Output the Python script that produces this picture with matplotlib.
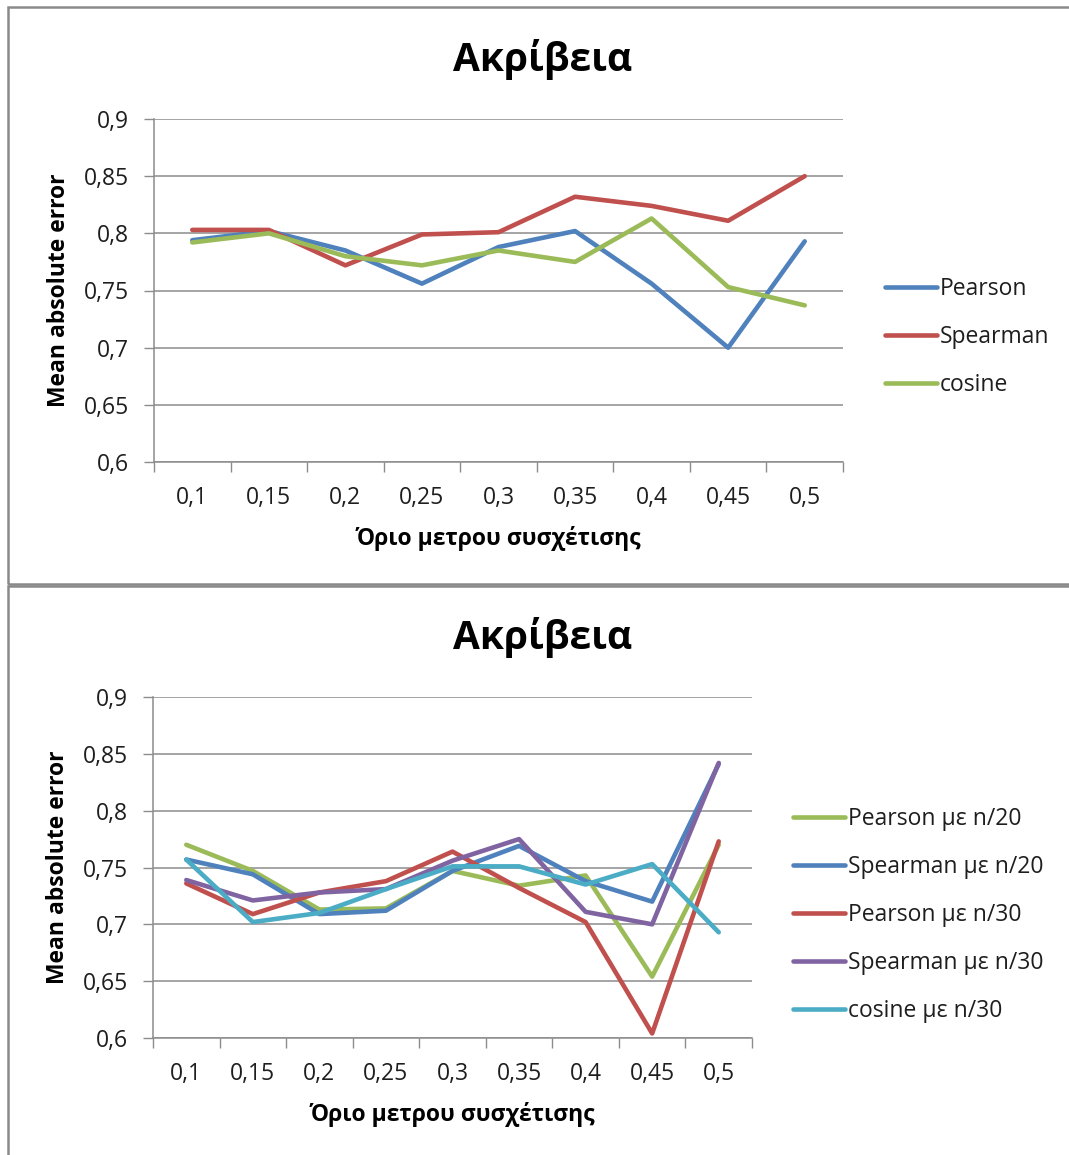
import matplotlib
matplotlib.use("Agg")
import matplotlib.pyplot as plt
from matplotlib.patches import Rectangle
from matplotlib.ticker import FixedLocator

plt.rcParams['font.family'] = ['Open Sans', 'DejaVu Sans']

# Thresholds (x categories)
thresholds = ["0,1", "0,15", "0,2", "0,25", "0,3", "0,35", "0,4", "0,45", "0,5"]

# Upper chart series
pearson = [0.794, 0.802, 0.785, 0.756, 0.788, 0.802, 0.756, 0.700, 0.793]
spearman = [0.803, 0.803, 0.772, 0.799, 0.801, 0.832, 0.824, 0.811, 0.850]
cosine = [0.792, 0.800, 0.780, 0.772, 0.785, 0.775, 0.813, 0.753, 0.737]

# Lower chart series
pearson_n20 = [0.770, 0.747, 0.713, 0.714, 0.747, 0.734, 0.743, 0.654, 0.770]
spearman_n20 = [0.757, 0.744, 0.709, 0.712, 0.747, 0.769, 0.738, 0.720, 0.841]
pearson_n30 = [0.736, 0.709, 0.728, 0.738, 0.764, 0.732, 0.702, 0.604, 0.773]
spearman_n30 = [0.739, 0.721, 0.728, 0.731, 0.756, 0.775, 0.711, 0.700, 0.842]
cosine_n30 = [0.757, 0.702, 0.710, 0.731, 0.751, 0.751, 0.735, 0.753, 0.693]

y_ticks = [0.6, 0.65, 0.7, 0.75, 0.8, 0.85, 0.9]
y_labels = ["0,6", "0,65", "0,7", "0,75", "0,8", "0,85", "0,9"]

BLUE = "#4F81BD"
RED = "#C0504D"
GREEN = "#9BBB59"
PURPLE = "#8064A2"
CYAN = "#4BACC6"
GRID = "#8C8C8C"
TEXT = "#1E1E1E"

FS = 16.5

W, H = 1069, 1155
fig = plt.figure(figsize=(W / 100, H / 100), dpi=100)


def px_axes(left, top, right, bottom):
    return fig.add_axes([left / W, 1 - bottom / H, (right - left) / W, (bottom - top) / H])


def style_axes(ax):
    n = len(thresholds)
    ax.set_xlim(-0.5, n - 0.5)
    ax.set_ylim(0.6, 0.9)
    ax.set_xticks(range(n))
    ax.set_xticklabels(thresholds, fontsize=FS, color=TEXT)
    ax.xaxis.set_minor_locator(FixedLocator([i - 0.5 for i in range(n + 1)]))
    ax.tick_params(axis="x", which="major", length=0, pad=17)
    ax.tick_params(axis="x", which="minor", length=7, width=1, color=GRID)
    ax.set_yticks(y_ticks)
    ax.set_yticklabels(y_labels, fontsize=FS, color=TEXT)
    ax.tick_params(axis="y", which="major", length=7, width=1, color=GRID, pad=11)
    ax.grid(axis="y", color=GRID, linewidth=1.1)
    ax.set_axisbelow(True)
    for s in ("top", "right"):
        ax.spines[s].set_visible(False)
    for s in ("left", "bottom"):
        ax.spines[s].set_color(GRID)
        ax.spines[s].set_linewidth(1.1)
    ax.set_ylabel("Mean absolute error", fontsize=FS, fontweight="bold", labelpad=9, color="black")
    ax.set_xlabel("Όριο μετρου συσχέτισης", fontsize=FS, fontweight="bold", labelpad=12, color="black")


# Panel frames
fig.patches.append(Rectangle((8 / W, 1 - 584 / H), 1.2, 577 / H, transform=fig.transFigure,
                             fill=False, edgecolor="#8A8A8A", linewidth=1.8))
fig.patches.append(Rectangle((8 / W, -0.1), 1.2, 1 - 586 / H + 0.1, transform=fig.transFigure,
                             fill=False, edgecolor="#8A8A8A", linewidth=1.8))

x = list(range(len(thresholds)))
lw = 3.3
legend_kw = dict(frameon=False, fontsize=FS, handlelength=2.25, handletextpad=0.15,
                 labelspacing=1.05, borderaxespad=0, bbox_transform=fig.transFigure,
                 loc="center left", labelcolor=TEXT)

# Upper chart
ax1 = px_axes(154, 119, 843, 462)
style_axes(ax1)
ax1.plot(x, pearson, color=BLUE, lw=lw, label="Pearson", solid_capstyle="round")
ax1.plot(x, spearman, color=RED, lw=lw, label="Spearman", solid_capstyle="round")
ax1.plot(x, cosine, color=GREEN, lw=lw, label="cosine", solid_capstyle="round")
fig.text(543 / W, 1 - 60 / H, "Ακρίβεια", fontsize=28, fontweight="bold", ha="center", va="center")
ax1.legend(bbox_to_anchor=(876 / W, 1 - 337 / H), **legend_kw)

# Lower chart
ax2 = px_axes(153, 697, 752, 1038)
style_axes(ax2)
ax2.plot(x, pearson_n20, color=GREEN, lw=lw, label="Pearson με n/20", solid_capstyle="round")
ax2.plot(x, spearman_n20, color=BLUE, lw=lw, label="Spearman με n/20", solid_capstyle="round")
ax2.plot(x, pearson_n30, color=RED, lw=lw, label="Pearson με n/30", solid_capstyle="round")
ax2.plot(x, spearman_n30, color=PURPLE, lw=lw, label="Spearman με n/30", solid_capstyle="round")
ax2.plot(x, cosine_n30, color=CYAN, lw=lw, label="cosine με n/30", solid_capstyle="round")
fig.text(543 / W, 1 - 637 / H, "Ακρίβεια", fontsize=28, fontweight="bold", ha="center", va="center")
ax2.legend(bbox_to_anchor=(784 / W, 1 - 915 / H), **legend_kw)

fig.savefig("out.png", dpi=100, facecolor="white")
